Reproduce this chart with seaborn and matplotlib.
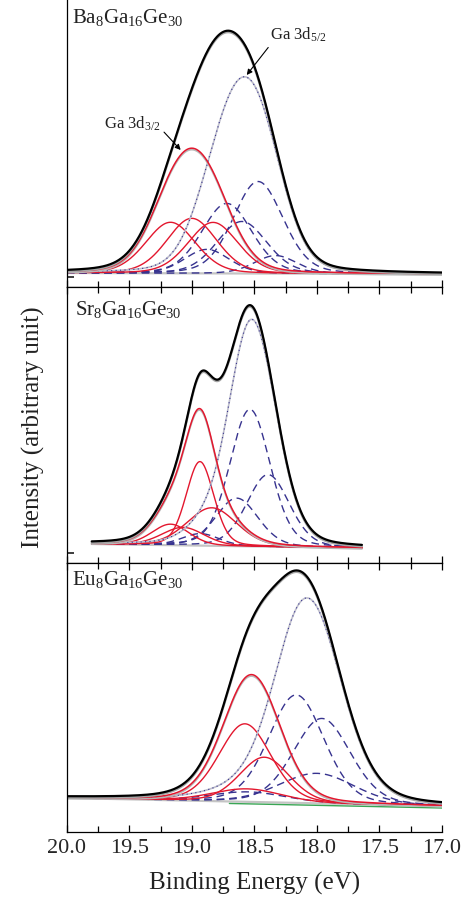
import numpy as np
import seaborn as sns
import matplotlib.pyplot as plt

# ---------------------------------------------------------------
# Ga 3d XPS fits for three clathrates (peak parameters)
# centre (eV), height (arb.), FWHM (eV)
# ---------------------------------------------------------------
samples = ["Ba", "Sr", "Eu"]
energy_range = {"Ba": (20.0, 17.0), "Sr": (19.80, 17.64), "Eu": (20.0, 17.0)}
background = {"Ba": (0.0, -1.0), "Sr": (0.0, -4.0), "Eu": (4.0, -4.0)}
y_limits = {"Ba": (-14, 273), "Sr": (-19, 257), "Eu": (-30, 239)}

# Ga 3d3/2 components (red)
ba_red_center = [19.17, 19.00, 18.83]
ba_red_height = [51, 55, 51]
ba_red_fwhm = [0.47, 0.47, 0.47]
sr_red_center = [19.17, 19.07, 18.935, 18.84]
sr_red_height = [21, 18, 84, 38]
sr_red_fwhm = [0.35, 0.40, 0.26, 0.47]
eu_red_center = [18.575, 18.42, 18.56]
eu_red_height = [78, 45, 13]
eu_red_fwhm = [0.49, 0.47, 0.66]

# Ga 3d5/2 components (dashed blue)
ba_blue_center = [18.47, 18.72, 18.60, 18.88, 18.33]
ba_blue_height = [92, 70, 52, 24, 18]
ba_blue_fwhm = [0.47, 0.47, 0.47, 0.42, 0.40]
sr_blue_center = [18.535, 18.39, 18.64, 18.93]
sr_blue_height = [137, 72, 48, 12]
sr_blue_fwhm = [0.38, 0.40, 0.40, 0.35]
eu_blue_center = [18.165, 17.96, 18.00, 18.55]
eu_blue_height = [108, 85, 30, 10]
eu_blue_fwhm = [0.52, 0.54, 0.71, 0.71]

titles = {"Ba": r"Ba$_8$Ga$_{16}$Ge$_{30}$",
          "Sr": r"Sr$_8$Ga$_{16}$Ge$_{30}$",
          "Eu": r"Eu$_8$Ga$_{16}$Ge$_{30}$"}
title_pos = {"Ba": (0.014, 0.92), "Sr": (0.022, 0.899), "Eu": (0.013, 0.918)}

reds = {"Ba": (ba_red_center, ba_red_height, ba_red_fwhm),
        "Sr": (sr_red_center, sr_red_height, sr_red_fwhm),
        "Eu": (eu_red_center, eu_red_height, eu_red_fwhm)}
blues = {"Ba": (ba_blue_center, ba_blue_height, ba_blue_fwhm),
         "Sr": (sr_blue_center, sr_blue_height, sr_blue_fwhm),
         "Eu": (eu_blue_center, eu_blue_height, eu_blue_fwhm)}

RED = "#e3172e"
NAVY = "#37338f"


def pseudo_voigt(x, c, h, w, eta=0.2):
    s = w / 2.3548
    g = np.exp(-(x - c) ** 2 / (2 * s * s))
    l = 1.0 / (1.0 + ((x - c) / (w / 2)) ** 2)
    return h * ((1 - eta) * g + eta * l)


def line(ax, x, y, **kw):
    sns.lineplot(x=x, y=y, ax=ax, estimator=None, sort=False, legend=False, **kw)


sns.set_theme(style="ticks")
plt.rcParams["font.family"] = ["Liberation Serif", "DejaVu Serif"]
plt.rcParams["mathtext.fontset"] = "custom"
plt.rcParams["mathtext.rm"] = "Liberation Serif"
plt.rcParams["mathtext.it"] = "Liberation Serif:italic"

fig = plt.figure(figsize=(4.7, 9.05), dpi=100)
left, width = 66.7 / 470, (442 - 66.7) / 470
panel_px = {"Ba": (0, 287), "Sr": (287, 563), "Eu": (563, 832)}

axes = {}
for s in samples:
    top, bot = panel_px[s]
    ax = fig.add_axes([left, 1 - bot / 905, width, (bot - top) / 905])
    axes[s] = ax

    e_hi, e_lo = energy_range[s]
    e = np.linspace(e_hi, e_lo, 700)
    b0, b1 = background[s]
    bg = b0 + (b1 - b0) * (e_hi - e) / (e_hi - e_lo)

    red_curves = [pseudo_voigt(e, c, h, w) for c, h, w in zip(*reds[s])]
    blue_curves = [pseudo_voigt(e, c, h, w) for c, h, w in zip(*blues[s])]
    red_sum = np.sum(red_curves, axis=0)
    blue_sum = np.sum(blue_curves, axis=0)
    total = red_sum + blue_sum + bg

    # backgrounds
    line(ax, e, bg, color="#c4c4c4", lw=1.6)
    if s == "Eu":
        line(ax, e[e < 18.7], bg[e < 18.7] - 2, color="#3aa655", lw=1.0)

    # 3d5/2 components
    for y in blue_curves:
        line(ax, e, y + bg, color=NAVY, lw=1.0, linestyle=(0, (5.5, 3.5)))
    # 3d3/2 components
    for y in red_curves:
        line(ax, e, y + bg, color=RED, lw=1.0)

    # envelopes
    line(ax, e, blue_sum + bg, color="#bfbfcc", lw=1.2)
    line(ax, e, blue_sum + bg, color=NAVY, lw=0.8, linestyle=(0, (1, 3)))
    line(ax, e, red_sum + bg - 1.5, color="#b8b8b8", lw=1.2)
    line(ax, e, red_sum + bg, color=RED, lw=1.1)

    # fit + experiment
    line(ax, e, total - 1.5, color="#a6a6a6", lw=1.6)
    line(ax, e, total, color="black", lw=1.6)

    ax.set_xlim(20.0, 17.0)
    ax.set_ylim(*y_limits[s])
    ax.set_xticks(np.arange(17.0, 20.01, 0.5))
    ax.set_xticks(np.arange(17.0, 20.01, 0.25), minor=True)
    ax.tick_params(axis="x", which="both", direction="in", top=True, bottom=True,
                   length=5, width=0.9, labelsize=16, pad=5, color="black")
    ax.tick_params(axis="x", which="minor", length=4)
    ax.set_yticks([y_limits[s][0] + 10] if s != "Eu" else [])
    ax.tick_params(axis="y", direction="in", length=5, labelleft=False)
    ax.spines["right"].set_visible(False)
    for sp in ["left", "top", "bottom"]:
        ax.spines[sp].set_linewidth(0.9)
        ax.spines[sp].set_color("black")
    if s == "Ba":
        ax.spines["top"].set_visible(False)
        ax.tick_params(axis="x", which="both", top=False)
    if s != "Eu":
        ax.tick_params(axis="x", labelbottom=False)
    ax.set_xlabel("")
    ax.set_ylabel("")
    ax.text(*title_pos[s], titles[s], transform=ax.transAxes, fontsize=15,
            va="baseline", ha="left", color="#222222")

# peak labels in the top panel
ax = axes["Ba"]
ax.annotate(r"Ga 3d$_{3/2}$", xy=(19.089, 123), xytext=(19.70, 149),
            fontsize=12, ha="left", va="center", color="#222222",
            arrowprops=dict(arrowstyle="-|>", color="black", lw=0.8,
                            mutation_scale=8, relpos=(1.0, 0.25), shrinkA=0, shrinkB=0))
ax.annotate(r"Ga 3d$_{5/2}$", xy=(18.561, 198), xytext=(18.374, 238),
            fontsize=12, ha="left", va="center", color="#222222",
            arrowprops=dict(arrowstyle="-|>", color="black", lw=0.8,
                            mutation_scale=8, relpos=(0.05, 0.15), shrinkA=0, shrinkB=0))

axes["Eu"].set_xlabel("Binding Energy (eV)", fontsize=18, labelpad=10, color="#222222")
axes["Eu"].set_xticklabels(["17.0", "17.5", "18.0", "18.5", "19.0", "19.5", "20.0"])
fig.text(33 / 470, 1 - 427 / 905, "Intensity (arbitrary unit)", rotation=90,
         ha="center", va="center", fontsize=18, color="#222222")

fig.savefig("out.png", dpi=100)
